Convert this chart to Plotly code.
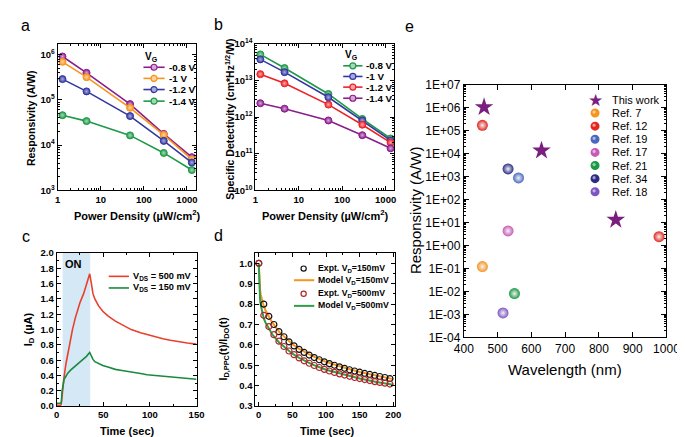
import plotly.graph_objects as go

W, H = 685, 437
FONT = "Liberation Sans, Arial, sans-serif"

# ---------------- DATA ----------------
# panel a: responsivity vs power density
pd_x = [1.3, 4.7, 48, 290, 1300]
resp_08 = [9.2e5, 4.0e5, 8.1e4, 1.77e4, 5.4e3]
resp_10 = [7.0e5, 3.2e5, 6.7e4, 1.69e4, 4.8e3]
resp_12 = [2.9e5, 1.55e5, 4.4e4, 1.24e4, 4.1e3]
resp_14 = [4.6e4, 3.4e4, 1.64e4, 6.7e3, 2.8e3]
vg_labels = ["-0.8 V", "-1 V", "-1.2 V", "-1.4 V"]

# panel b: specific detectivity
det_08 = [5.2e13, 2.2e13, 4.3e12, 8.9e11, 2.6e11]
det_10 = [3.8e13, 1.7e13, 3.5e12, 8.1e11, 2.3e11]
det_12 = [1.5e13, 8.4e12, 2.2e12, 6.2e11, 2.0e11]
det_14 = [2.4e12, 1.7e12, 8.1e11, 3.2e11, 1.4e11]

# panel c: transient current
on_start, on_end = 6.5, 36.0
t_c = [0, 2, 4, 5, 5.8, 6.8, 8, 10, 12, 15, 17, 20, 22, 25, 29, 32, 35.5,
       36.5, 37.6, 39, 41, 45, 49.5, 55, 63, 70, 80, 90, 97, 105, 114, 122, 131, 140, 150]
id_500 = [0.01, 0.01, 0.01, 0.02, 0.12, 0.27, 0.38, 0.55, 0.69, 0.87, 1.0, 1.15, 1.24, 1.35, 1.47, 1.58, 1.73,
          1.66, 1.55, 1.47, 1.40, 1.31, 1.24, 1.18, 1.11, 1.06, 1.00, 0.96, 0.935, 0.91, 0.88, 0.86, 0.84, 0.825, 0.81]
id_150 = [0.035, 0.035, 0.035, 0.04, 0.19, 0.30, 0.35, 0.39, 0.43, 0.47, 0.49, 0.52, 0.54, 0.57, 0.61, 0.65, 0.70,
          0.67, 0.64, 0.61, 0.58, 0.555, 0.53, 0.51, 0.48, 0.465, 0.44, 0.425, 0.41, 0.40, 0.385, 0.375, 0.365, 0.358, 0.35]

# panel d: normalized PPC decay
t_expt = [0, 7.5, 15, 22.5, 30, 37.5, 45, 52.5, 60, 67.5, 75, 82.5, 90, 97.5, 105,
          112.5, 120, 127.5, 135, 142.5, 150, 157.5, 165, 172.5, 180, 187.5, 195]
expt_150 = [1.0, 0.80, 0.74, 0.70, 0.665, 0.64, 0.615, 0.595, 0.578, 0.563, 0.55, 0.538, 0.527, 0.517, 0.508,
            0.50, 0.492, 0.485, 0.478, 0.472, 0.466, 0.46, 0.455, 0.45, 0.445, 0.44, 0.435]
expt_500 = [1.0, 0.745, 0.69, 0.65, 0.618, 0.592, 0.57, 0.552, 0.536, 0.522, 0.51, 0.499, 0.489, 0.48, 0.472,
            0.465, 0.458, 0.452, 0.446, 0.44, 0.435, 0.43, 0.425, 0.42, 0.416, 0.412, 0.408]
t_model = [0, 0.5, 1, 2, 3, 5, 7.5, 10, 15, 20, 30, 40, 50, 60, 80, 100, 125, 150, 175, 200]
model_150 = [1.0, 0.93, 0.90, 0.87, 0.845, 0.815, 0.79, 0.77, 0.74, 0.71, 0.665, 0.632, 0.603, 0.58,
             0.545, 0.517, 0.49, 0.467, 0.448, 0.432]
model_500 = [1.0, 0.90, 0.86, 0.82, 0.795, 0.76, 0.73, 0.71, 0.68, 0.652, 0.613, 0.583, 0.557, 0.536,
             0.503, 0.478, 0.455, 0.435, 0.418, 0.404]

# panel e: comparison
this_wl = [460, 630, 850]
this_R = [1.05e6, 1.35e4, 13]
ref_names = ["Ref. 7", "Ref. 12", "Ref. 19", "Ref. 17", "Ref. 21", "Ref. 34", "Ref. 18"]
ref_wl = [[455], [455, 978], [562], [531], [550], [531], [516]]
ref_R = [[0.12], [1.7e5, 2.4], [870], [4.3], [0.008], [2150], [0.00115]]
ref_colors = ["#F7941D", "#E3261E", "#4A68C2", "#C65AB8", "#1A9A44", "#2B2C86", "#7E55C4"]
star_color = "#7A1F80"

# ---------------- helpers ----------------
def px(x):
    return x / W

def py(y):
    return 1 - y / H

def logminor(lo, hi):
    return [k * 10 ** n for n in range(lo, hi) for k in range(2, 10)]

fig = go.Figure()

PURPLE, ORANGE, BLUE, GREEN, RED = "#8A1E8C", "#F7941D", "#3338A0", "#1E9A48", "#EC2227"
TINT = {PURPLE: "#d7a6d8", ORANGE: "#fcd3a0", BLUE: "#a7aae0", GREEN: "#a3dab4", RED: "#f8a6a8"}

def add_series(x, y, color, xa, ya):
    fig.add_trace(go.Scatter(
        x=x, y=y, mode="lines+markers", xaxis=xa, yaxis=ya, showlegend=False,
        line=dict(color=color, width=1.6),
        marker=dict(symbol="circle", size=7, color=color,
                    line=dict(color=color, width=1),
                    gradient=dict(type="radial", color=TINT[color]))))

# panel a
for yv, c in zip([resp_08, resp_10, resp_12, resp_14], [PURPLE, ORANGE, BLUE, GREEN]):
    add_series(pd_x, yv, c, "x", "y")
# panel b
for yv, c in zip([det_08, det_10, det_12, det_14], [GREEN, BLUE, RED, PURPLE]):
    add_series(pd_x, yv, c, "x2", "y2")

# panel c
fig.add_trace(go.Scatter(x=t_c, y=id_500, mode="lines", xaxis="x3", yaxis="y3", showlegend=False,
                         line=dict(color="#E8402C", width=1.6)))
fig.add_trace(go.Scatter(x=t_c, y=id_150, mode="lines", xaxis="x3", yaxis="y3", showlegend=False,
                         line=dict(color="#1A8A3E", width=1.6)))

# panel d
fig.add_trace(go.Scatter(x=t_model, y=model_150, mode="lines", xaxis="x4", yaxis="y4", showlegend=False,
                         line=dict(color="#F7941D", width=2)))
fig.add_trace(go.Scatter(x=t_model, y=model_500, mode="lines", xaxis="x4", yaxis="y4", showlegend=False,
                         line=dict(color="#2E9E48", width=2)))
fig.add_trace(go.Scatter(x=t_expt, y=expt_150, mode="markers", xaxis="x4", yaxis="y4", showlegend=False,
                         marker=dict(symbol="circle-open", size=6, color="#111111", line=dict(width=1.2))))
fig.add_trace(go.Scatter(x=t_expt, y=expt_500, mode="markers", xaxis="x4", yaxis="y4", showlegend=False,
                         marker=dict(symbol="circle-open", size=6, color="#B2262A", line=dict(width=1.2))))

# panel e
for wl, r, c in zip(ref_wl, ref_R, ref_colors):
    fig.add_trace(go.Scatter(x=wl, y=r, mode="markers", xaxis="x5", yaxis="y5", showlegend=False,
                             marker=dict(symbol="circle", size=11, color=c, line=dict(width=0),
                                         gradient=dict(type="radial", color="#f2f2f2"))))
fig.add_trace(go.Scatter(x=this_wl, y=this_R, mode="markers", xaxis="x5", yaxis="y5", showlegend=False,
                         marker=dict(symbol="star", size=14, color=star_color, line=dict(width=0))))

# ---------------- axes ----------------
bold_tick = dict(family=FONT, size=9.5, color="black", weight="bold")

def axis(domain, rng, typ="linear", tickfont=bold_tick, **kw):
    d = dict(domain=domain, range=rng, type=typ, showline=True, linecolor="black", linewidth=1,
             mirror="ticks", ticks="inside", ticklen=4, tickwidth=1, tickcolor="black",
             showgrid=False, zeroline=False, tickfont=tickfont, fixedrange=True)
    d.update(kw)
    return d

minor_log = lambda vals: dict(tickmode="array", tickvals=vals, ticks="inside", ticklen=2,
                              tickcolor="black", showgrid=False)

dom_a_x = [px(41), px(184)]
dom_b_x = [px(246), px(390)]
dom_ab_y = [py(181), py(30)]
dom_c_x = [px(40), px(185)]
dom_d_x = [px(246), px(391)]
dom_cd_y = [py(404), py(246)]
dom_e_x = [px(462), px(672)]
dom_e_y = [py(333), py(72)]

xt_vals = [1, 10, 100, 1000]
xt_text = ["1", "10", "100", "1000"]

fig.update_layout(
    xaxis=axis(dom_a_x, [0, 3.2], "log", anchor="y", tickvals=xt_vals, ticktext=xt_text,
               minor=minor_log(logminor(0, 4))),
    yaxis=axis(dom_ab_y, [3, 6.24], "log", anchor="x", tickvals=[1e3, 1e4, 1e5, 1e6],
               ticktext=["10<sup>3</sup>", "10<sup>4</sup>", "10<sup>5</sup>", "10<sup>6</sup>"],
               minor=minor_log(logminor(3, 7))),
    xaxis2=axis(dom_b_x, [0, 3.2], "log", anchor="y2", tickvals=xt_vals, ticktext=xt_text,
                minor=minor_log(logminor(0, 4))),
    yaxis2=axis(dom_ab_y, [10, 14], "log", anchor="x2", tickvals=[1e10, 1e11, 1e12, 1e13, 1e14],
                ticktext=["10<sup>10</sup>", "10<sup>11</sup>", "10<sup>12</sup>", "10<sup>13</sup>", "10<sup>14</sup>"],
                minor=minor_log(logminor(10, 14))),
    xaxis3=axis(dom_c_x, [0, 150], anchor="y3", tickvals=[0, 50, 100, 150],
                minor=dict(tickvals=[25, 75, 125], ticks="inside", ticklen=2, tickcolor="black")),
    yaxis3=axis(dom_cd_y, [0, 2.0], anchor="x3", dtick=0.2, tick0=0, tickformat=".1f",
                minor=dict(dtick=0.1, ticks="inside", ticklen=2, tickcolor="black")),
    xaxis4=axis(dom_d_x, [-5, 203], anchor="y4", tickvals=[0, 50, 100, 150, 200],
                minor=dict(tickvals=[25, 75, 125, 175], ticks="inside", ticklen=2, tickcolor="black")),
    yaxis4=axis(dom_cd_y, [0.3, 1.05], anchor="x4", dtick=0.1, tick0=0.3, tickformat=".1f",
                minor=dict(dtick=0.05, tick0=0.3, ticks="inside", ticklen=2, tickcolor="black")),
    xaxis5=axis(dom_e_x, [400, 1000], anchor="y5", dtick=100, tick0=400, ticklen=5,
                tickfont=dict(family=FONT, size=12, color="black")),
    yaxis5=axis(dom_e_y, [-4, 7], "log", anchor="x5", ticklen=5,
                tickvals=[10.0 ** k for k in range(-4, 8)],
                ticktext=["1E-04", "1E-03", "1E-02", "1E-01", "1E+00", "1E+01", "1E+02",
                          "1E+03", "1E+04", "1E+05", "1E+06", "1E+07"],
                tickfont=dict(family=FONT, size=12, color="black"),
                minor=minor_log(logminor(-4, 7))),
)

# ---------------- annotations / legends ----------------
ann = []
shapes = []

def text(x, y, s, size=10, bold=True, xanchor="center", color="black", angle=0):
    ann.append(dict(x=px(x), y=py(y), xref="paper", yref="paper", text=s, showarrow=False,
                    xanchor=xanchor, yanchor="middle", textangle=angle,
                    font=dict(family=FONT, size=size, color=color, weight="bold" if bold else "normal")))

def line(x0, x1, y, color, width=1.6):
    shapes.append(dict(type="line", xref="paper", yref="paper", x0=px(x0), x1=px(x1), y0=py(y), y1=py(y),
                       line=dict(color=color, width=width)))

def dot(x, y, r, color, fill=None, width=1):
    shapes.append(dict(type="circle", xref="paper", yref="paper", xsizemode="pixel", ysizemode="pixel",
                       xanchor=px(x), yanchor=py(y), x0=-r, x1=r, y0=-r, y1=r,
                       fillcolor=fill if fill else "rgba(0,0,0,0)", line=dict(color=color, width=width)))

# panel letters
text(8, 11, "a", 16, False)
text(208, 10, "b", 16, False)
text(8, 229, "c", 16, False)
text(208, 228, "d", 16, False)
text(406, 12, "e", 16, False)

# axis titles
text(123, 207, "Power Density (\u00b5W/cm<sup>2</sup>)", 11)
text(318, 207, "Power Density (\u00b5W/cm<sup>2</sup>)", 11)
text(13, 107, "Responsivity (A/W)", 10.5, angle=-90)
text(219, 108, "Specific Detectivity (cm*Hz<sup>1/2</sup>/W)", 10.5, angle=-90)
text(113, 430, "Time (sec)", 11)
text(321, 430, "Time (sec)", 11)
text(11, 325, "I<sub>D</sub> (\u00b5A)", 11, angle=-90)
text(213, 345, "I<sub>D,PPC</sub>(t)/I<sub>DO</sub>(t)", 10.5, angle=-90)
text(567, 366, "Wavelength (nm)", 15, False)
text(412, 202, "Responsivity (A/W)", 15, False, angle=-90)

# legend a
text(130, 43, "V<sub>G</sub>", 10, xanchor="left")
for yy, c, lab in zip([54, 65.5, 77, 89], [PURPLE, ORANGE, BLUE, GREEN], vg_labels):
    line(130, 152, yy, c)
    dot(141, yy, 3, c, TINT[c], 1.2)
    text(154, yy, lab, 9.8, xanchor="left")

# legend b
text(337, 41, "V<sub>G</sub>", 10, xanchor="left")
for yy, c, lab in zip([52.5, 63.5, 74.5, 86], [GREEN, BLUE, RED, PURPLE], vg_labels):
    line(337, 357, yy, c)
    dot(347, yy, 3, c, TINT[c], 1.2)
    text(359, yy, lab, 9.8, xanchor="left")

# panel c shaded ON region and legend
shapes.append(dict(type="rect", xref="x3", yref="y3", x0=on_start, x1=on_end, y0=0, y1=2.0,
                   fillcolor="#D5E8F5", line=dict(width=0), layer="below"))
text(58, 257, "ON", 11)
line(94, 115, 270, "#E8402C")
text(117, 270, "V<sub>DS</sub> = 500 mV", 9.2, xanchor="left")
line(94, 115, 282, "#1A8A3E")
text(117, 282, "V<sub>DS</sub> = 150 mV", 9.2, xanchor="left")

# panel d legend
dot(296, 262, 2.6, "#111111", None, 1.2)
text(309, 262, "Expt. V<sub>D</sub>=150mV", 8.7, xanchor="left")
line(286, 307, 274, "#F7941D", 2)
text(309, 274, "Model V<sub>D</sub>=150mV", 8.7, xanchor="left")
dot(296, 288, 2.6, "#B2262A", None, 1.2)
text(309, 288, "Expt. V<sub>D</sub>=500mV", 8.7, xanchor="left")
line(286, 307, 300.5, "#2E9E48", 2)
text(309, 300.5, "Model V<sub>D</sub>=500mV", 8.7, xanchor="left")

# panel e legend
text(598, 88, "\u2605", 17, False, color=star_color)
text(613, 88, "This work", 11, False, xanchor="left")
for i, (nm, c) in enumerate(zip(ref_names, ref_colors)):
    yy = 101.3 + i * 13.55
    dot(598, yy, 4.5, c, c, 0)
    dot(597, yy - 1, 1.6, "rgba(255,255,255,0.55)", "rgba(255,255,255,0.55)", 0)
    text(613, yy, nm, 11, False, xanchor="left")

fig.update_layout(
    width=W, height=H, margin=dict(l=0, r=0, t=0, b=0),
    paper_bgcolor="white", plot_bgcolor="white",
    annotations=ann, shapes=shapes, showlegend=False,
    font=dict(family=FONT, color="black"),
)

fig.write_html("out.html")
